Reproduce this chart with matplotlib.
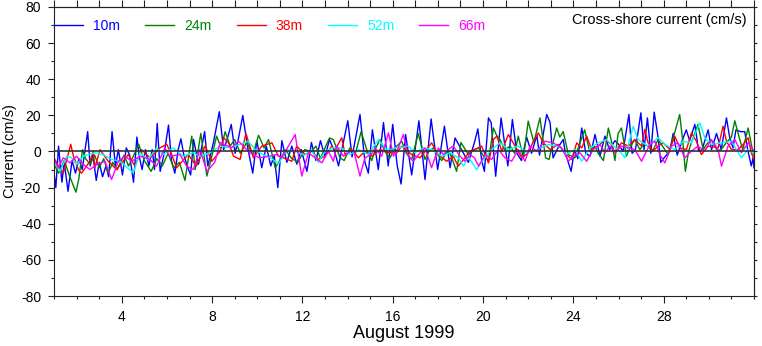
import matplotlib
matplotlib.use('Agg')
import matplotlib.pyplot as plt
from matplotlib.ticker import MultipleLocator, FixedLocator, NullFormatter

plt.rcParams['font.family'] = ['Liberation Sans', 'DejaVu Sans']
plt.rcParams['axes.unicode_minus'] = False

# cross-shore current (cm/s) at five depths, time in days of August 1999
t10 = [1.0, 1.08, 1.2, 1.35, 1.45, 1.62, 1.8, 1.95, 2.1, 2.25,
       2.49, 2.6, 2.72, 2.87, 3.0, 3.15, 3.3, 3.42, 3.57, 3.72,
       3.85, 4.03, 4.2, 4.35, 4.52, 4.67, 4.78, 4.9, 5.05, 5.2,
       5.35, 5.45, 5.57, 5.7, 5.88, 6.07, 6.2, 6.35, 6.5, 6.62,
       6.75, 6.9, 7.05, 7.18, 7.4, 7.55, 7.67, 7.81, 8.06, 8.32,
       8.51, 8.65, 8.85, 9.02, 9.15, 9.36, 9.58, 9.8, 9.98, 10.2,
       10.4, 10.6, 10.75, 10.91, 11.09, 11.31, 11.53, 11.75, 11.95, 12.2,
       12.4, 12.6, 12.8, 13.0, 13.2, 13.45, 13.6, 14.01, 14.2, 14.55,
       14.77, 14.92, 15.1, 15.36, 15.59, 15.8, 16.0, 16.2, 16.37, 16.57,
       16.84, 17.16, 17.43, 17.7, 17.99, 18.29, 18.54, 18.76, 19.05, 19.35,
       19.62, 19.77, 19.94, 20.06, 20.24, 20.36, 20.56, 20.8, 20.97, 21.1,
       21.3, 21.5, 21.7, 21.93, 22.15, 22.38, 22.5, 22.82, 22.97, 23.1,
       23.36, 23.55, 23.65, 23.9, 24.05, 24.2, 24.37, 24.55, 24.74, 24.96,
       25.18, 25.4, 25.6, 25.84, 26.0, 26.2, 26.46, 26.6, 26.75, 26.99,
       27.13, 27.28, 27.43, 27.58, 27.75, 27.87, 28.05, 28.27, 28.42, 28.6,
       28.79, 29.0, 29.15, 29.38, 29.55, 29.7, 29.97, 30.12, 30.34, 30.55,
       30.78, 30.92, 31.07, 31.2, 31.4, 31.59, 31.72, 31.88, 31.96, 32.0]
v10 = [-12, -20, 3, -17, -6, -22, -5, -12, -4, -10,
       11, -8, -2, -16, -6, -14, -8, -14, 11, -8,
       1, -13, 2, -2, -17, 8, -3, -10, 1, -8,
       1, -10, 15.5, -11, -1, 14.6, -5, -12, 1, 7,
       -2, -8, -13, 6.6, -7, 3, 11, -8, 5, 22,
       1, 6, 15, -1, 6, 20, 2, -12, 6, -9,
       3, -8, -2, -20, 6, -6, 3, -7, 1, -11,
       5, -5, 6, -3, 6.6, -1, -8, 17, -3, 20.5,
       -6, -12, 12, -10, 16, -8, 15, -8, -18, 9.4,
       -13, 17, -15.5, 18, -10, 14, -9, 7.5, 1, -6,
       5, 12.5, -5, -11, 18.6, 16, -13.7, 18.6, 3, -8,
       17.7, -1, -5, 8, -1, 9, -2, 20.5, 16, -3.5,
       3, 6.6, -1, -11, 1, -4, 13, -1, -2.6, 9.4,
       -2.6, 8.5, 1, 6, 4, 0, 20.5, -1, 1, 21.4,
       1, 18.6, -1, 21.8, 8, -6, -3, 0, 10, -2,
       5, 12, 6, 15, 0, 1, 12, 1, 10, 1,
       18.6, 8, 2, 12, 11, 11, 1, -8, -3.5, -9]

t24 = [1.0, 1.2, 1.45, 1.7, 1.97, 2.1, 2.26, 2.4, 2.6, 2.8,
       3.0, 3.2, 3.4, 3.6, 3.8, 4.1, 4.3, 4.5, 4.75, 5.0,
       5.3, 5.55, 5.8, 6.05, 6.3, 6.55, 6.8, 7.1, 7.25, 7.5,
       7.77, 8.0, 8.2, 8.4, 8.58, 8.8, 9.0, 9.25, 9.54, 9.8,
       10.06, 10.3, 10.5, 10.8, 11.0, 11.25, 11.5, 11.8, 12.1, 12.4,
       12.6, 12.8, 13.0, 13.2, 13.37, 13.67, 13.85, 14.1, 14.35, 14.6,
       14.85, 15.07, 15.25, 15.44, 15.65, 15.88, 16.1, 16.4, 16.6, 16.84,
       17.13, 17.43, 17.6, 17.8, 18.17, 18.45, 18.6, 18.83, 19.02, 19.35,
       19.6, 19.8, 20.0, 20.24, 20.46, 20.6, 20.75, 20.95, 21.2, 21.4,
       21.56, 21.79, 22.0, 22.25, 22.52, 22.77, 22.92, 23.26, 23.4, 23.55,
       23.78, 24.07, 24.3, 24.5, 24.72, 24.95, 25.1, 25.33, 25.55, 25.7,
       25.84, 25.98, 26.13, 26.35, 26.5, 26.72, 26.95, 27.1, 27.31, 27.5,
       27.75, 28.0, 28.2, 28.5, 28.71, 28.85, 28.96, 29.1, 29.23, 29.52,
       29.75, 29.9, 30.1, 30.4, 30.6, 30.78, 31.0, 31.15, 31.37, 31.5,
       31.74, 31.96, 32.0]
v24 = [-7, -12, -5, -14, -22.5, -15, 1, -4, -7, -2,
       -9, -4, -12, -6, -10, -2, -8, -3, 4, -5,
       -11, -4, -8, -1, -9, -6, -16, 8.5, -10, 10,
       -13.6, -2, 8.5, 2, 11, 3, 6.6, -1, 5, -2,
       9, 2, 6.6, -9, -5, 1, -3.5, -6, 1, 0,
       3, -4, 2, 7.5, 6.6, -3.5, -5, 2, -1, 11,
       1, -5, 2, 6.6, 0, -3.5, 2, 5.7, -1, -4.4,
       10, -4.4, 0, 2, -5, 1, -3, -11, 5, -1.7,
       1, 2, -2, -5, 13, 9, 6.6, 1, 3, -1,
       8.5, -3.5, 16.8, 5, 18.6, -3.5, -4.4, 13, 8, 11,
       -1.7, -3.5, 5, 12, 0, 3, -1, -5, 13, 5,
       -5, 10, 13, -2.6, 2, 6.6, 1, 4, 3, 0,
       6.6, 2, -1.7, 11, 20.5, 5, -11, 0, 5, 15,
       1, 4, 6.6, 0, 2, 5, 8, 17, 6.6, 1,
       13, -1, -2]

t38 = [1.0, 1.19, 1.41, 1.74, 1.86, 2.08, 2.22, 2.59, 2.74, 2.81,
       3.04, 3.4, 3.77, 4.29, 4.58, 4.88, 5.25, 5.69, 5.99, 6.21,
       6.43, 6.94, 7.31, 7.55, 7.7, 7.99, 8.36, 8.51, 8.73, 8.95,
       9.24, 9.5, 9.83, 10.2, 10.65, 10.94, 11.16, 11.53, 11.75, 12.12,
       12.42, 12.71, 13.01, 13.3, 13.45, 13.74, 13.89, 14.18, 14.48, 14.77,
       15.07, 15.44, 15.81, 16.18, 16.4, 16.84, 17.21, 17.5, 17.72, 18.02,
       18.39, 18.68, 18.9, 19.2, 19.42, 19.65, 19.94, 20.24, 20.46, 20.61,
       20.83, 21.12, 21.42, 21.71, 22.01, 22.23, 22.45, 22.67, 22.97, 23.33,
       23.63, 23.92, 24.15, 24.37, 24.59, 24.81, 25.1, 25.4, 25.69, 25.84,
       26.13, 26.43, 26.72, 27.02, 27.16, 27.31, 27.53, 27.75, 27.98, 28.27,
       28.49, 28.71, 29.01, 29.23, 29.45, 29.67, 29.97, 30.41, 30.63, 30.78,
       31.0, 31.29, 31.52, 31.74, 31.88, 32.0]
v38 = [-3.5, -8, -12, 4, -2.6, -10, -12, -5.4, 0, -9,
       1, -5.4, -10, -1.7, -8, 1, -3.5, 2, 4, -1.7,
       -9, -1.7, -8, -0.7, 3, -5.4, 0.2, 7.6, 4.8, -2.6,
       -4.4, 10, -3.5, 3, 4.8, -2.6, -3.5, -5.4, 3, -1.7,
       0.2, -4.4, -2.6, 3, 1, 7.6, -1.7, 1.1, -3.5, 0.2,
       -2.6, 1.1, -0.7, -0.7, 3, -1.7, -3.5, 1.1, 4.8, -1.7,
       -5.4, -2.6, -8.1, -3.5, 0.2, 1.1, 3, -6.3, 6.6, 8.5,
       0.2, 9.4, 3, -3.5, -0.7, 5.7, 10.3, 4.8, 1.1, 3.9,
       -0.7, -4.4, 4.8, 2, 8.5, 1.1, 3, 6.6, 3.9, -0.7,
       4.8, 3, 6.6, 3, 12.2, 4.8, 0.2, 3, 4.8, 1.1,
       8.5, 2, 1.1, 10.3, 5.7, -1.7, 3, 2, 14, 5.7,
       1.1, 1.1, 3.9, 7.6, -0.7, -4.4]

t52 = [1.0, 1.27, 1.56, 1.78, 2.0, 2.3, 2.81, 3.18, 3.55, 3.92,
       4.51, 4.81, 5.17, 5.54, 5.84, 6.28, 6.72, 7.17, 7.46, 7.9,
       8.35, 8.79, 9.23, 9.6, 9.97, 10.41, 10.6, 10.94, 11.3, 11.7,
       12.1, 12.4, 12.71, 13.0, 13.35, 13.74, 14.11, 14.48, 14.92, 15.36,
       15.73, 16.18, 16.69, 16.99, 17.36, 17.72, 18.17, 18.54, 18.9, 19.13,
       19.35, 19.72, 20.02, 20.38, 20.75, 21.12, 21.56, 21.93, 22.38, 22.89,
       23.33, 23.7, 24.07, 24.37, 24.74, 25.1, 25.47, 25.77, 26.0, 26.28,
       26.65, 26.87, 27.31, 27.75, 28.05, 28.49, 28.86, 29.23, 29.6, 29.82,
       30.11, 30.56, 31.0, 31.44, 31.74, 31.96, 32.0]
v52 = [-6.3, -10.9, -2.6, -3.5, -7.2, -2.6, -0.7, -1.7, -4.4, -5.4,
       -11.8, -0.7, -4.4, 2, -1.7, 2, -2.6, -0.7, -2.6, -0.7,
       3, 2, 3.9, 5.7, 0.2, -2.6, -3.5, -7, 1, 0,
       -2, 1, -6, 0, 2, 2, -1.7, 1.1, -1.7, 6.6,
       1.1, 2, 3, -0.7, 2, 1.1, -2.6, -0.7, -3.5, -8.1,
       -3, -10, -4.4, 1.1, 4.8, 1.1, 3, -0.7, 1.1, 3.9,
       3, -1.7, 1.1, -5.4, 2, 4.8, 6.6, 3, 1, -3.5,
       14, 6.6, 3, 7.6, 3.9, 1.1, 5.7, 4.8, 15.9, 7.6,
       3.9, 4.8, 5.7, -3.5, 1.1, -0.7, -1]

t66 = [1.0, 1.19, 1.41, 1.71, 2.0, 2.3, 2.59, 2.89, 3.26, 3.55,
       3.85, 4.14, 4.44, 4.81, 5.25, 5.54, 5.91, 6.13, 6.58, 6.87,
       7.17, 7.46, 7.77, 8.12, 8.36, 8.86, 9.17, 9.67, 10.1, 10.56,
       10.85, 11.09, 11.38, 11.68, 11.97, 12.27, 12.56, 12.86, 13.15, 13.37,
       13.52, 13.82, 14.26, 14.55, 14.77, 15.04, 15.22, 15.51, 15.81, 16.03,
       16.25, 16.47, 16.69, 16.91, 17.21, 17.43, 17.72, 18.02, 18.24, 18.46,
       18.68, 18.98, 19.2, 19.42, 19.62, 19.8, 20.09, 20.38, 20.68, 20.97,
       21.27, 21.56, 21.86, 22.08, 22.38, 22.74, 23.11, 23.48, 23.78, 24.0,
       24.29, 24.59, 24.88, 25.18, 25.4, 25.62, 25.84, 26.13, 26.43, 26.72,
       27.02, 27.16, 27.39, 27.61, 27.83, 28.05, 28.35, 28.64, 28.93, 29.23,
       29.52, 29.82, 30.11, 30.41, 30.56, 30.85, 31.15, 31.44, 31.74, 31.96]
v66 = [-4.4, -9, -3.5, -6.3, -2.6, -7.2, -10, -7.2, -5.4, -15.5,
       -5.4, -2.6, -5.4, -2.6, -4.4, -8.1, 2, -2.6, -1.7, -8.1,
       -10, 1.1, -11, -6, 5, 2, 5.7, -0.7, -3.5, -2.6,
       -1.7, -3.5, 3, 9.4, -13.6, -0.7, -3.5, -6.3, 0.2, -5.4,
       3, -2.6, 1.1, -13.6, -3.5, -1.7, 2, -2.6, 10.3, -2.6,
       2, 9.4, -2.6, -5.4, -0.7, 2, -9, 2, -1.7, 1.1,
       3, -2.6, -5.4, -1.7, -3.5, -8.1, -1.7, -4.4, 1.1, -3.5,
       -5.4, 1.1, -5.4, 3, 0.2, 5.7, 4.8, 2, -5.4, -2.6,
       -0.7, -5.4, 1.1, 3.9, -0.7, 3, -0.7, 3, 2, 1.1,
       -5.4, -1.7, 3.9, 5.7, -1.7, -6.3, 3, 4.8, -3.5, 0.2,
       3, 0.2, 6.6, 1.1, -8.1, 3, 6.6, -0.7, 4.8, 1.1]

depths = ['10m', '24m', '38m', '52m', '66m']
colors = ['#0000ff', '#008000', '#ff0000', '#00ffff', '#ff00ff']
times = [t10, t24, t38, t52, t66]
values = [v10, v24, v38, v52, v66]
day_labels = [4, 8, 12, 16, 20, 24, 28]

fig = plt.figure(figsize=(7.62, 3.46), dpi=100)
ax = fig.add_axes([0.0709, 0.1445, 0.9186, 0.8353])

for t, v, c, name in zip(times, values, colors, depths):
    ax.plot(t, v, color=c, lw=1.0, label=name)

# zero line drawn over the records
ax.axhline(0, color='#333333', lw=1.2, zorder=5)

ax.set_xlim(1, 32)
ax.set_ylim(-80, 80)

ax.xaxis.set_major_locator(FixedLocator(day_labels))
ax.xaxis.set_minor_locator(MultipleLocator(1))
ax.yaxis.set_major_locator(MultipleLocator(20))
ax.yaxis.set_minor_locator(MultipleLocator(10))
ax.tick_params(which='both', direction='out', width=0.8, colors='#222222',
               labelcolor='black', labelsize=10)
ax.tick_params(axis='x', which='major', length=5, pad=5)
ax.tick_params(axis='x', which='minor', length=2.2)
ax.tick_params(axis='y', which='major', length=4.3, pad=5)
ax.tick_params(axis='y', which='minor', length=2.2)

# unlabeled ticks on the top and right edges
top = ax.secondary_xaxis('top')
top.xaxis.set_major_locator(MultipleLocator(1))
top.xaxis.set_major_formatter(NullFormatter())
top.tick_params(direction='out', length=5, width=0.8, colors='#222222')
right = ax.secondary_yaxis('right')
right.yaxis.set_major_locator(MultipleLocator(10))
right.yaxis.set_major_formatter(NullFormatter())
right.tick_params(direction='out', length=2.5, width=0.8, colors='#222222')

for sp in list(ax.spines.values()) + [top.spines['top'], right.spines['right']]:
    sp.set_linewidth(0.8)
    sp.set_color('#222222')

ax.set_xlabel('August 1999', fontsize=13, labelpad=1)
ax.set_ylabel('Current (cm/s)', fontsize=10.5, labelpad=3)

ax.text(0.99, 0.955, 'Cross-shore current (cm/s)', transform=ax.transAxes,
        ha='right', va='center', fontsize=10.5)

ax.legend(loc='upper left', bbox_to_anchor=(0.0, 0.958), ncol=5, frameon=False,
          fontsize=10, handlelength=2.1, handletextpad=0.72, columnspacing=1.8,
          borderpad=0, borderaxespad=0, labelcolor='linecolor')

fig.savefig('out.png', dpi=100)
